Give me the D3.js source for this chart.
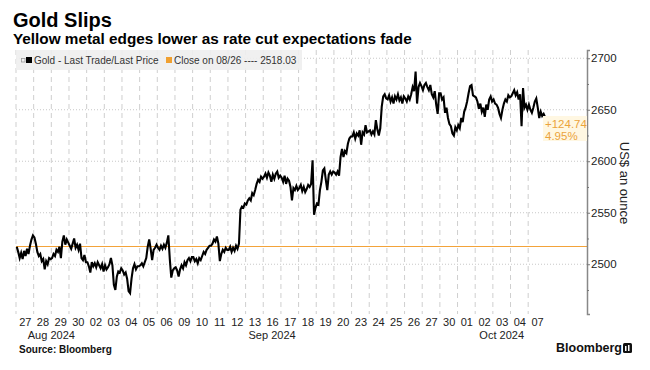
<!DOCTYPE html>
<meta charset="utf-8">
<style>
body { margin: 0; background: #fff; }
svg { font-family: "Liberation Sans", Arial, sans-serif; }
</style>
<script src="https://d3js.org/d3.v7.min.js"></script>
<svg width="650" height="370"></svg>
<script>
// trading days on the x axis
var dayLabels = ["27","28","29","30","02","03","04","05","06","09","10","11","12","13","16",
                 "17","18","19","20","23","24","25","26","27","30","01","02","03","04","07"];
var monthLabels = ["Aug 2024", "Sep 2024", "Oct 2024"];
var monthFirstDay = [0, 4, 25];
var monthLastDay = [4, 25, 30];

var prevClose = 2518.03;
var yTicks = [2500, 2550, 2600, 2650, 2700];
var yMinor = [2475, 2525, 2575, 2625, 2675];

// intraday prices, one list per trading day
var prices = [
  [2517, 2512, 2506, 2511, 2505, 2513, 2508, 2515, 2510, 2518, 2524, 2528],
  [2526, 2520, 2512, 2508, 2510, 2503, 2505, 2495, 2503, 2500, 2506, 2505],
  [2506, 2510, 2508, 2514, 2512, 2517, 2506, 2522, 2528, 2519, 2524, 2521],
  [2518, 2515, 2520, 2525, 2516, 2519, 2514, 2520, 2506, 2504, 2509, 2502],
  [2502, 2498, 2492, 2502, 2498, 2501, 2497, 2502, 2499, 2496, 2500, 2493],
  [2499, 2495, 2497, 2500, 2506, 2499, 2480, 2475, 2488, 2493, 2492, 2496],
  [2494, 2490, 2492, 2486, 2474, 2472, 2486, 2496, 2500, 2495, 2498, 2498],
  [2499, 2501, 2498, 2502, 2506, 2517, 2524, 2515, 2504, 2514, 2516, 2519],
  [2516, 2514, 2518, 2515, 2519, 2516, 2521, 2528, 2505, 2487, 2494, 2496],
  [2497, 2494, 2488, 2495, 2499, 2496, 2502, 2499, 2504, 2506, 2503, 2507],
  [2507, 2503, 2505, 2501, 2506, 2504, 2508, 2512, 2510, 2514, 2516, 2518],
  [2518, 2520, 2524, 2522, 2527, 2520, 2503, 2510, 2514, 2512, 2516, 2514],
  [2514, 2517, 2512, 2516, 2513, 2518, 2515, 2520, 2553, 2556, 2555, 2559],
  [2558, 2562, 2564, 2562, 2569, 2567, 2572, 2578, 2582, 2580, 2585, 2583],
  [2585, 2588, 2584, 2589, 2586, 2580, 2587, 2583, 2588, 2590, 2584, 2586],
  [2584, 2580, 2586, 2578, 2583, 2581, 2575, 2562, 2574, 2572, 2576, 2572],
  [2574, 2577, 2571, 2575, 2570, 2573, 2577, 2575, 2578, 2601, 2548, 2555],
  [2559, 2558, 2572, 2580, 2591, 2593, 2582, 2572, 2587, 2590, 2587, 2590],
  [2589, 2587, 2590, 2586, 2604, 2612, 2604, 2610, 2608, 2617, 2622, 2624],
  [2624, 2628, 2622, 2627, 2625, 2630, 2616, 2628, 2626, 2635, 2628, 2629],
  [2630, 2626, 2629, 2626, 2640, 2631, 2625, 2632, 2653, 2663, 2665, 2661],
  [2660, 2664, 2658, 2662, 2656, 2663, 2660, 2665, 2659, 2662, 2656, 2663],
  [2661, 2658, 2663, 2660, 2665, 2672, 2668, 2687, 2656, 2672, 2676, 2673],
  [2669, 2674, 2676, 2672, 2669, 2674, 2665, 2662, 2668, 2655, 2646, 2666],
  [2666, 2660, 2662, 2647, 2652, 2642, 2636, 2634, 2627, 2625, 2633, 2630],
  [2635, 2632, 2642, 2638, 2648, 2652, 2658, 2666, 2673, 2674, 2664, 2663],
  [2662, 2658, 2651, 2656, 2648, 2652, 2643, 2655, 2650, 2660, 2663, 2658],
  [2660, 2656, 2655, 2652, 2646, 2642, 2650, 2656, 2660, 2658, 2664, 2662],
  [2663, 2666, 2669, 2664, 2667, 2660, 2665, 2634, 2671, 2652, 2655, 2650],
  [2655, 2650, 2647, 2652, 2658, 2661, 2652, 2642, 2648, 2644, 2646, 2642.77]
];

var svg = d3.select("svg");
var plotL = 16, plotR = 587, plotT = 50, plotB = 314;

var x = d3.scaleLinear().domain([0, 32.33]).range([plotL, plotR]);
var y = d3.scaleLinear().domain([2451.7, 2708]).range([plotB, plotT]);

var points = [];
prices.forEach(function(day, i) {
  day.forEach(function(v, j) {
    points.push({t: i + (j + 0.5) / day.length, v: v});
  });
});

// title block
svg.append("text").attr("x", 13).attr("y", 27)
    .style("font-size", "20px").style("font-weight", "bold").text("Gold Slips");
svg.append("text").attr("x", 13).attr("y", 44)
    .style("font-size", "15.3px").style("font-weight", "bold")
    .text("Yellow metal edges lower as rate cut expectations fade");

// grid
svg.append("g").selectAll("line")
  .data(yTicks)
  .enter().append("line")
    .attr("x1", plotL).attr("x2", plotR)
    .attr("y1", function(d) { return y(d); }).attr("y2", function(d) { return y(d); })
    .attr("stroke", "#c8c8c8").attr("stroke-dasharray", "1,2");

svg.append("g").selectAll("line")
  .data(d3.range(dayLabels.length))
  .enter().append("line")
    .attr("x1", function(d) { return x(d); }).attr("x2", function(d) { return x(d); })
    .attr("y1", plotT).attr("y2", plotB)
    .attr("stroke", "#cfcfcf").attr("stroke-dasharray", "5,4");

// legend
var legend = svg.append("g");
legend.append("rect").attr("x", 16).attr("y", 50).attr("width", 286).attr("height", 20)
    .attr("fill", "#eeeeee").attr("opacity", 0.9);
legend.append("rect").attr("x", 21.5).attr("y", 58.5).attr("width", 3.5).attr("height", 3.5)
    .attr("fill", "none").attr("stroke", "#999").attr("stroke-width", 0.8);
legend.append("rect").attr("x", 26).attr("y", 57).attr("width", 6).attr("height", 6).attr("fill", "#000");
legend.append("text").attr("x", 34).attr("y", 64).style("font-size", "10px").attr("fill", "#333")
    .text("Gold - Last Trade/Last Price");
legend.append("rect").attr("x", 166).attr("y", 57).attr("width", 6).attr("height", 6).attr("fill", "#f0a030");
legend.append("text").attr("x", 174).attr("y", 64).style("font-size", "10px").attr("fill", "#333")
    .text("Close on 08/26 ---- " + prevClose.toFixed(2));

// previous close reference line
svg.append("line")
    .attr("x1", plotL).attr("x2", plotR)
    .attr("y1", Math.round(y(prevClose)) + 0.5).attr("y2", Math.round(y(prevClose)) + 0.5)
    .attr("stroke", "#f3a33a").attr("stroke-width", 1);

// price line
var line = d3.line()
    .x(function(d) { return x(d.t); })
    .y(function(d) { return y(d.v); });

svg.append("path")
    .datum(points)
    .attr("fill", "none")
    .attr("stroke", "#000")
    .attr("stroke-width", 2.1)
    .attr("d", line);

// right axis
var yAxis = svg.append("g").attr("transform", "translate(" + plotR + ",0)")
    .call(d3.axisRight(y).tickValues(yTicks).tickSize(3).tickPadding(1).tickFormat(d3.format("d")));
yAxis.select(".domain").attr("stroke", "#888").attr("stroke-width", 1.5);
yAxis.selectAll(".tick line").attr("stroke", "#777");
yAxis.selectAll("text").style("font-size", "11.5px").attr("fill", "#222")
    .style("font-family", "Liberation Sans, Arial, sans-serif");

svg.append("g").attr("transform", "translate(" + plotR + ",0)")
    .call(d3.axisRight(y).tickValues(yMinor).tickSize(2).tickFormat(""))
    .call(function(g) { g.select(".domain").remove(); })
    .selectAll("line").attr("stroke", "#777");

svg.append("text")
    .attr("transform", "translate(620,183) rotate(90)")
    .attr("text-anchor", "middle")
    .style("font-size", "13px").attr("fill", "#222")
    .text("US$ an ounce");

// bottom axis: day numbers then months
var xAxis = svg.append("g").attr("transform", "translate(0," + (plotB + 1) + ")")
    .call(d3.axisBottom(x)
      .tickValues(d3.range(dayLabels.length).map(function(i) { return i + 0.5; }))
      .tickSize(0).tickPadding(3)
      .tickFormat(function(d) { return dayLabels[Math.floor(d)]; }));
xAxis.select(".domain").remove();
xAxis.selectAll("text").style("font-size", "11px").attr("fill", "#222")
    .style("font-family", "Liberation Sans, Arial, sans-serif");

svg.append("g").selectAll("text")
  .data(monthLabels)
  .enter().append("text")
    .attr("x", function(d, i) { return (x(monthFirstDay[i]) + x(monthLastDay[i])) / 2; })
    .attr("y", 339)
    .attr("text-anchor", "middle")
    .style("font-size", "11px").attr("fill", "#222")
    .text(function(d) { return d; });

// change since previous close
var last = points[points.length - 1].v;
var change = last - prevClose;
var ann = svg.append("g");
ann.append("rect").attr("x", 543).attr("y", 116).attr("width", 44).attr("height", 25)
    .attr("fill", "#fff7e2");
ann.append("text").attr("x", 545).attr("y", 128)
    .style("font-size", "11.5px").attr("fill", "#eba33b")
    .text("+" + change.toFixed(2));
ann.append("text").attr("x", 545).attr("y", 140)
    .style("font-size", "11.5px").attr("fill", "#eba33b")
    .text((change / prevClose * 100).toFixed(2) + "%");

// footer
svg.append("text").attr("x", 19).attr("y", 353)
    .style("font-size", "10px").style("font-weight", "bold").attr("fill", "#111")
    .text("Source: Bloomberg");
svg.append("text").attr("x", 556).attr("y", 352)
    .style("font-size", "12.5px").style("font-weight", "bold").attr("fill", "#111")
    .text("Bloomberg");
var logo = svg.append("g").attr("transform", "translate(623,343)");
logo.append("rect").attr("width", 9).attr("height", 10).attr("rx", 1.5).attr("fill", "#111");
logo.append("rect").attr("x", 2).attr("y", 3).attr("width", 1.5).attr("height", 5).attr("fill", "#fff");
logo.append("rect").attr("x", 5).attr("y", 2).attr("width", 1.5).attr("height", 6).attr("fill", "#fff");
</script>
